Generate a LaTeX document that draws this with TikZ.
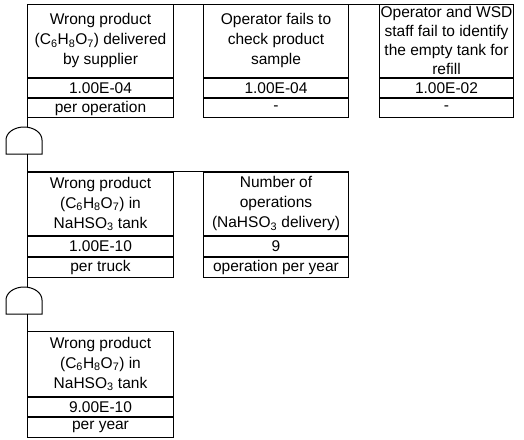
\documentclass[tikz,border=0pt]{standalone}
\usepackage{fontspec}
\setmainfont{Liberation Sans}
\begin{document}
\begin{tikzpicture}[x=1pt,y=-1pt,
  cell/.style={draw, line width=1pt, inner sep=0pt, anchor=north west, align=center,
    font=\fontsize{15.5}{20}\selectfont},
  wA/.style={minimum width=146pt},
  wB/.style={minimum width=145pt},
  wC/.style={minimum width=134pt},
  link/.style={line width=1pt},
  gateshape/.style={line width=1pt},
]
\useasboundingbox (0,0) rectangle (524,439);

% ---- Row 1 ----
\node[cell, wA, minimum height=72.5pt] (a1d) at (27,4)
  {Wrong product\\(C\textsubscript{6}H\textsubscript{8}O\textsubscript{7}) delivered\\by supplier};
\node[cell, wA, minimum height=19.5pt] (a1v) at (a1d.south west) {1.00E-04};
\node[cell, wA, minimum height=19pt] (a1u) at (a1v.south west) {per operation};

\node[cell, wB, minimum height=72.5pt] (a2d) at (203,4)
  {Operator fails to\\check product\\sample};
\node[cell, wB, minimum height=19.5pt] (a2v) at (a2d.south west) {1.00E-04};
\node[cell, wB, minimum height=19pt] (a2u) at (a2v.south west) {-};

\node[cell, wC, minimum height=72.5pt, font=\fontsize{15.5}{19}\selectfont] (a3d) at (379,4)
  {Operator and WSD\\staff fail to identify\\the empty tank for\\refill};
\node[cell, wC, minimum height=19.5pt] (a3v) at (a3d.south west) {1.00E-02};
\node[cell, wC, minimum height=19pt] (a3u) at (a3v.south west) {-};

\draw[link] (a1d.north west) -- (a3d.north east);

% ---- Gate 1 ----
\coordinate (g1n) at (27,127.2);
\coordinate (g1s) at (27,154);
\draw[gateshape] (6,154) -- (6,140) arc[start angle=180, end angle=0, x radius=18pt, y radius=13pt] -- (42,154) -- cycle;
\draw[link] (a1u.south west) -- (g1n);

% ---- Row 2 ----
\node[cell, wA, minimum height=63.5pt] (b1d) at (27,171.5)
  {Wrong product\\(C\textsubscript{6}H\textsubscript{8}O\textsubscript{7}) in\\NaHSO\textsubscript{3} tank};
\node[cell, wA, minimum height=20pt] (b1v) at (b1d.south west) {1.00E-10};
\node[cell, wA, minimum height=20pt] (b1u) at (b1v.south west) {per truck};

\node[cell, wB, minimum height=63.5pt] (b2d) at (203,171.5)
  {Number of\\operations\\(NaHSO\textsubscript{3} delivery)};
\node[cell, wB, minimum height=20pt] (b2v) at (b2d.south west) {9};
\node[cell, wB, minimum height=20pt] (b2u) at (b2v.south west) {operation per year};

\draw[link] (g1s) -- (b1d.north west);
\draw[link] (b1d.north west) -- (b2d.north east);

% ---- Gate 2 ----
\coordinate (g2n) at (27,287.2);
\coordinate (g2s) at (27,314);
\draw[gateshape] (6,314) -- (6,300) arc[start angle=180, end angle=0, x radius=18pt, y radius=13pt] -- (42,314) -- cycle;
\draw[link] (b1u.south west) -- (g2n);

% ---- Row 3 ----
\node[cell, wA, minimum height=65pt] (c1d) at (27,331)
  {Wrong product\\(C\textsubscript{6}H\textsubscript{8}O\textsubscript{7}) in\\NaHSO\textsubscript{3} tank};
\node[cell, wA, minimum height=18.5pt] (c1v) at (c1d.south west) {9.00E-10};
\node[cell, wA, minimum height=20.5pt] (c1u) at (c1v.south west) {per year};

\draw[link] (g2s) -- (c1d.north west);
\end{tikzpicture}
\end{document}
